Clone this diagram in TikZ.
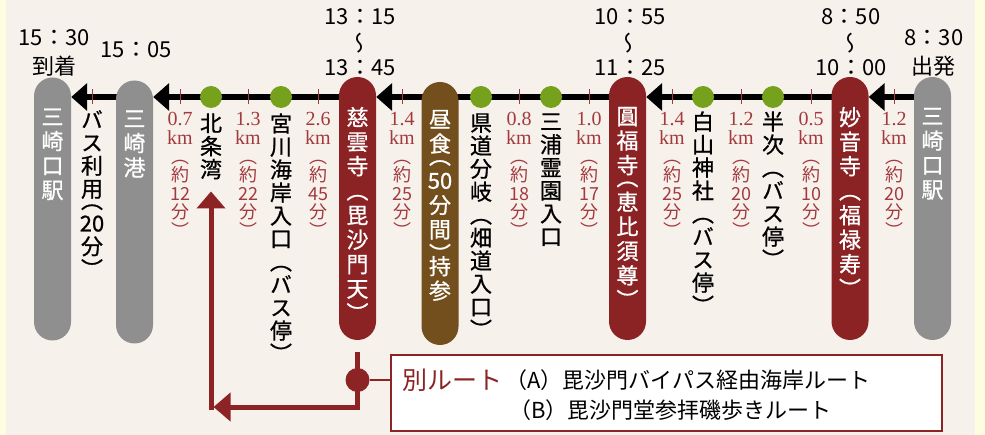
\documentclass[tikz,border=0pt]{standalone}
\usepackage{fontspec}
\usepackage{tikz}
\usetikzlibrary{positioning,arrows.meta,backgrounds}

\newfontfamily\jp{Noto Sans CJK JP}
\newfontfamily\jpv[RawFeature=+vert]{Noto Sans CJK JP}
\newfontfamily\jpvb[RawFeature=+vert,FakeBold=0.8]{Noto Sans CJK JP}
\newfontfamily\numfont{Liberation Serif}
\newcommand{\hp}{\\[-.5\baselineskip]}
\newcommand{\kmnum}[1]{{\numfont\fontsize{20}{18.5}\selectfont #1}}

\definecolor{outerbg}{RGB}{255,253,224}
\definecolor{panelbg}{RGB}{247,241,236}
\definecolor{pillred}{RGB}{139,34,36}
\definecolor{pillbrown}{RGB}{116,79,30}
\definecolor{pillgray}{RGB}{143,143,143}
\definecolor{stopgreen}{RGB}{118,161,29}
\definecolor{kmred}{RGB}{162,58,62}
\definecolor{routered}{RGB}{140,36,38}

\begin{document}
\begin{tikzpicture}[x=1pt,y=-1pt,
    pill/.style={rounded corners=18.5pt,minimum width=37pt,minimum height=263pt,inner sep=0pt},
    pilltext/.style={text=white,font=\jpvb\fontsize{22}{24.5}\selectfont,align=center,inner sep=0pt},
    stopdot/.style={circle,fill=stopgreen,minimum size=22pt,inner sep=0pt},
    stoptext/.style={font=\jpvb\fontsize{22}{23}\selectfont,align=center,inner sep=0pt},
    kmtick/.style={kmred,line width=.8pt},
    kmlabel/.style={text=kmred,font=\jpv\fontsize{18}{18.5}\selectfont,align=center,inner sep=0pt,anchor=north},
    timetext/.style={font=\jp\fontsize{22}{26}\selectfont,inner sep=0pt},
    timewave/.style={font=\jpv\fontsize{22}{24}\selectfont,inner sep=0pt},
    rail/.style={line width=6pt,-{Triangle[length=16pt,width=27pt]}},
    altroute/.style={routered,line width=5pt,-{Triangle[length=17pt,width=28pt]}}]
  \useasboundingbox (0,0) rectangle (985,435);
  \begin{scope}[on background layer]
    \fill[outerbg] (0,0) rectangle (985,435);
    \fill[panelbg] (6,0) rectangle (975,435);
  \end{scope}
  \coordinate (rail) at (0,97);

  % stations with a stop
  \node[pill,fill=pillgray]  (mgL)    at (52.5,209)   {};
  \node[pill,fill=pillgray]  (mko)    at (134.5,212)  {};
  \node[pill,fill=pillred]   (jiun)   at (357.5,208.5) {};
  \node[pill,fill=pillbrown] (lunch)  at (440,213.5)  {};
  \node[pill,fill=pillred]   (enpuku) at (627.5,208.5) {};
  \node[pill,fill=pillred]   (myoon)  at (850,208.5)  {};
  \node[pill,fill=pillgray]  (mgR)    at (932.5,208.5) {};

  \node[pilltext,below=31pt of mgL.north]    (mgLtext)    {三\\崎\\口\\駅};
  \node[pilltext,below=30pt of mko.north]    (mkotext)    {三\\崎\\港};
  \node[pilltext,below=30pt of jiun.north]   (jiuntext)   {慈\\雲\\寺\\（\\毘\\沙\\門\\天\\）};
  \node[pilltext,below=28pt of lunch.north]  (lunchtext)  {昼\\食\hp（\\50\\分\\間\\）\hp 持\\参};
  \node[pilltext,below=30pt of enpuku.north] (enpukutext) {圓\\福\\寺\hp（\\恵\\比\\須\\尊\\）};
  \node[pilltext,below=30pt of myoon.north]  (myoontext)  {妙\\音\\寺\\（\\福\\禄\\寿\\）};
  \node[pilltext,below=31pt of mgR.north]    (mgRtext)    {三\\崎\\口\\駅};

  \begin{scope}[on background layer]
    \foreach \from/\to in {mgR/myoon,myoon/enpuku,enpuku/jiun,jiun/mko,mko/mgL}
      \draw[rail] (\from.center |- rail) -- (\to.east |- rail);
  \end{scope}

  % distances
  \draw[kmtick] (92,89) -- (92,104);
  \foreach \x/\km/\mn [count=\i] in {180/0.7/12,248/1.3/22,318/2.6/45,402/1.4/25,519/0.8/18,
                                     589/1.0/17,672/1.4/25,741/1.2/20,811/0.5/10,894/1.2/20}
  {
    \draw[kmtick] (\x,89) -- (\x,104);
    \node[kmlabel] (km\i) at (\x,112) {\kmnum{\km}\\[1pt]\kmnum{km}\\（\\約\\\mn\\分\\）};
  }

  % passing points
  \node[stopdot] (hojo)     at (211,97) {};
  \node[stopdot] (miyagawa) at (281,97) {};
  \node[stopdot] (kendo)    at (481,97) {};
  \node[stopdot] (miura)    at (551,97) {};
  \node[stopdot] (hakusan)  at (703,97) {};
  \node[stopdot] (hanji)    at (773,97) {};

  \node[stoptext,anchor=north] (bustext) at (92,110) {バ\\ス\\利\\用\hp（\\20\\分\\）};
  \node[stoptext,below=5pt of hojo]     (hojotext)     {北\\条\\湾};
  \node[stoptext,below=5pt of miyagawa] (miyagawatext) {宮\\川\\海\\岸\\入\\口\\（\\バ\\ス\\停\\）};
  \node[stoptext,below=5pt of kendo]    (kendotext)    {県\\道\\分\\岐\\（\\畑\\道\\入\\口\\）};
  \node[stoptext,below=5pt of miura]    (miuratext)    {三\\浦\\霊\\園\\入\\口};
  \node[stoptext,below=3pt of hakusan]  (hakusantext)  {白\\山\\神\\社\\（\\バ\\ス\\停\\）};
  \node[stoptext,below=3pt of hanji]    (hanjitext)    {半\\次\\（\\バ\\ス\\停\\）};

  % times
  \node[timetext] (t1530) at (54,38)  {15：30};
  \node[timetext] (arrive) at (54,66) {到着};
  \node[timetext] (t1505) at (136,50) {15：05};
  \node[timetext] (t1315) at (360,17) {13：15};
  \node[timewave] (w1)    at (359,43) {〜};
  \node[timetext] (t1345) at (360,68) {13：45};
  \node[timetext] (t1055) at (630,17) {10：55};
  \node[timewave] (w2)    at (628,43) {〜};
  \node[timetext] (t1125) at (630,68) {11：25};
  \node[timetext] (t0850) at (851,17) {8：50};
  \node[timewave] (w3)    at (850,43) {〜};
  \node[timetext] (t1000) at (851,68) {10：00};
  \node[timetext] (t0830) at (934,38) {8：30};
  \node[timetext] (depart) at (933,66) {出発};

  % other route
  \node[draw=routered,line width=2pt,fill=white,minimum width=551pt,minimum height=76pt,
        inner sep=0pt] (altbox) at (666.5,393) {};
  \node[font=\jp\fontsize{25}{28}\selectfont,text=routered,inner sep=0pt,anchor=west]
        (alttitle) at (402,380) {別ルート};
  \node[font=\jp\fontsize{22}{26}\selectfont,inner sep=0pt,anchor=west]
        (routeA) at (505,380) {（A）毘沙門バイパス経由海岸ルート};
  \node[font=\jp\fontsize{22}{26}\selectfont,inner sep=0pt,anchor=west]
        (routeB) at (509,410) {（B）毘沙門堂参拝磯歩きルート};

  \coordinate (turn) at (211,407);
  \draw[altroute] ([yshift=-12pt]jiun.south) |- ([xshift=2.5pt]turn);
  \draw[altroute] ([yshift=-2.5pt]turn) -- ([yshift=-12pt]hojotext.south);
  \node[circle,fill=routered,minimum size=24pt,inner sep=0pt] (fork) at (357.5,380) {};
  \draw[routered,line width=2.5pt] (fork) -- (fork -| altbox.west);
\end{tikzpicture}
\end{document}
